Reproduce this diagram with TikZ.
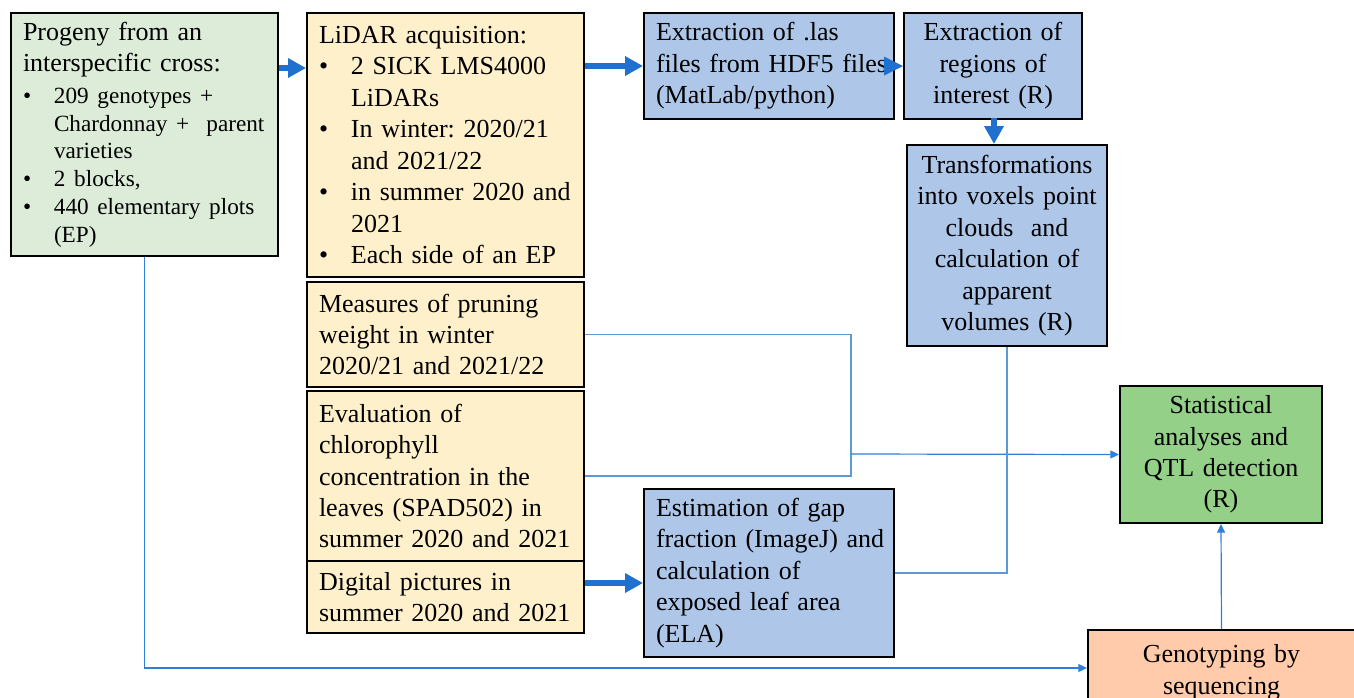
\documentclass[tikz,border=0pt]{standalone}
\usepackage{fontspec}
\setmainfont{Liberation Serif}
\usetikzlibrary{arrows.meta}
\definecolor{fillA}{HTML}{DCECD8}
\definecolor{fillY}{HTML}{FFF0CC}
\definecolor{fillB}{HTML}{AEC6E8}
\definecolor{fillG}{HTML}{94D088}
\definecolor{fillO}{HTML}{FFCBAA}
\definecolor{arrowblue}{HTML}{1F70CF}
\definecolor{lineblue}{HTML}{5B9BD5}
\definecolor{linearrow}{HTML}{2F7ED8}
\newcommand{\bul}[2]{\makebox[#1][l]{•}\mbox{#2}}
\newcommand{\ind}[2]{\hspace*{#1}\mbox{#2}}
\frenchspacing
\begin{document}
\begin{tikzpicture}[x=0.75pt,y=-0.75pt,
  box/.style={draw=black, line width=1.5pt, anchor=north west, inner ysep=0pt,
    font=\fontsize{19.5}{23.6}\selectfont\frenchspacing},
  lbox/.style={box, inner xsep=9pt, align=left},
  cbox/.style={box, inner xsep=3pt, align=center},
  bigarrow/.style={draw=arrowblue, line width=4.5pt, -{Triangle[length=13.5pt,width=14pt]}},
  thinline/.style={draw=lineblue, line width=0.9pt},
  thinarrow/.style={draw=linearrow, line width=0.9pt, -{Triangle[length=6.5pt,width=6pt]}}]
\useasboundingbox (0,0) rectangle (1354,697);

% boxes
\node[lbox, fill=fillA, minimum width=200.25pt, minimum height=182.25pt, text width=182.25pt] (b1) at (10,12)
 {{\fontsize{19.5}{23.6}\selectfont Progeny from an\\interspecific cross:\par}
  \vspace{3pt}
  {\fontsize{17.4}{20.8}\selectfont
  \bul{23.25pt}{209 genotypes +}\\
  \ind{23.25pt}{Chardonnay +\ \ parent}\\
  \ind{23.25pt}{varieties}\\
  \bul{23.25pt}{2 blocks,}\\
  \bul{23.25pt}{440 elementary plots}\\
  \ind{23.25pt}{(EP)}\par}};

\node[lbox, fill=fillY, minimum width=207.75pt, minimum height=198pt, text width=189.75pt] (b2) at (306,12)
 {LiDAR acquisition:\\
  \bul{24pt}{2 SICK LMS4000}\\
  \ind{24pt}{LiDARs}\\
  \bul{24pt}{In winter: 2020/21}\\
  \ind{24pt}{and 2021/22}\\
  \bul{24pt}{in summer 2020 and}\\
  \ind{24pt}{2021}\\
  \bul{24pt}{Each side of an EP}};

\node[lbox, fill=fillY, minimum width=207.75pt, minimum height=78.75pt, text width=189.75pt] (b3) at (306,281)
 {Measures of pruning\\weight in winter\\\mbox{2020/21 and 2021/22}};

\node[lbox, fill=fillY, minimum width=207.75pt, minimum height=127.5pt, text width=189.75pt] (b4) at (306,390)
 {Evaluation of\\chlorophyll\\\mbox{concentration in the}\\\mbox{leaves (SPAD502) in}\\\mbox{summer 2020 and 2021}};

\node[lbox, fill=fillY, minimum width=207.75pt, minimum height=54pt, text width=189.75pt] (b5) at (306,560)
 {Digital pictures in\\\mbox{summer 2020 and 2021}};

\node[lbox, fill=fillB, minimum width=187.5pt, minimum height=79.5pt, text width=169.5pt] (b6) at (643,12)
 {Extraction of .las\\\mbox{files from HDF5 files}\\(MatLab/python)};

\node[cbox, fill=fillB, minimum width=133.5pt, minimum height=79.5pt, text width=127.5pt] (b7) at (903,12)
 {Extraction of\\regions of\\interest (R)};

\node[cbox, fill=fillB, minimum width=150pt, minimum height=150.75pt, text width=144pt] (b8) at (906,144)
 {Transformations\\\mbox{into voxels point}\\clouds\ \ and\\calculation of\\apparent\\volumes (R)};

\node[cbox, fill=fillG, minimum width=151.5pt, minimum height=102.75pt, text width=145.5pt] (b9) at (1119,385)
 {Statistical\\analyses and\\QTL detection\\(R)};

\node[lbox, fill=fillB, minimum width=187.5pt, minimum height=126pt, text width=169.5pt] (b10) at (643,488)
 {Estimation of gap\\\mbox{fraction (ImageJ) and}\\calculation of\\\mbox{exposed leaf area}\\(ELA)};

\node[cbox, fill=fillO, minimum width=200.25pt, minimum height=57pt, text width=194.25pt] (b11) at (1087,629)
 {\rule{0pt}{20pt}Genotyping by\\sequencing};

% thick arrows
\draw[bigarrow] (b1.east |- 0,68) -- (b2.west |- 0,68);
\draw[bigarrow] (b2.east |- b6.west) -- (b6.west);
\fill[arrowblue] (b7.west) -- ++(-19,-9.5) -- ++(0,19) -- cycle;
\draw[bigarrow] (994,118) -- (994,144);
\draw[bigarrow] (b5.east |- 0,583) -- (b10.west |- 0,583);

% thin connectors
\coordinate (j) at (851,454);
\draw[thinline] (b3.east) -| (j);
\draw[thinline] (b4.east) -| (j);
\draw[thinarrow] (j) -- (b9.west);
\draw[thinline] (b8.south) |- (b10.east);
\draw[thinarrow] (b1.south) |- (b11.west);
\draw[thinarrow] (b11.north) -- (b9.south);
\end{tikzpicture}
\end{document}
